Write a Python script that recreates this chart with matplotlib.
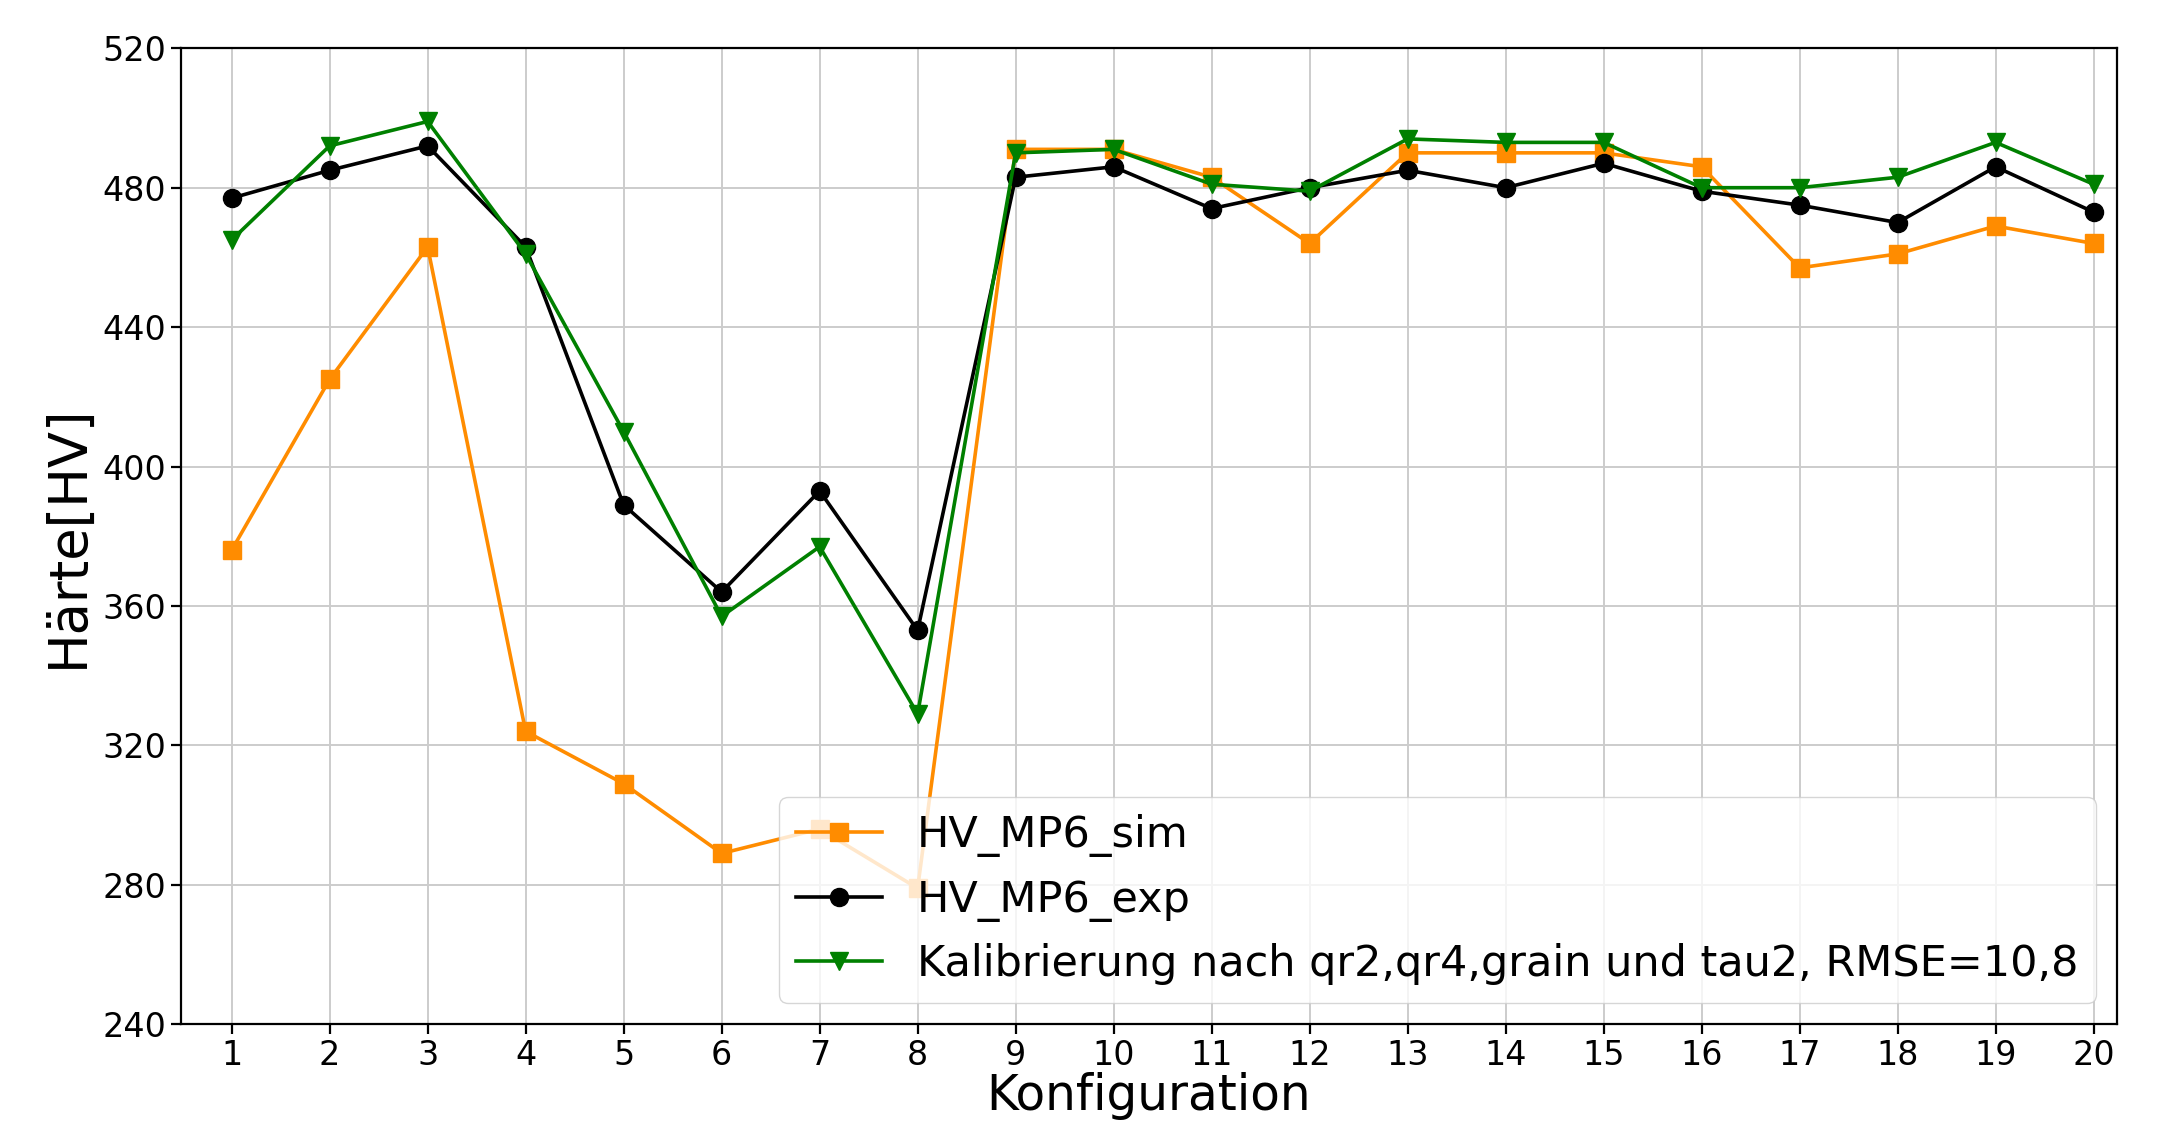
import matplotlib
matplotlib.use("Agg")
import matplotlib.pyplot as plt

konfig = list(range(1, 21))
hv_sim = [376, 425, 463, 324, 309, 289, 296, 279, 491, 491,
          483, 464, 490, 490, 490, 486, 457, 461, 469, 464]
hv_exp = [477, 485, 492, 463, 389, 364, 393, 353, 483, 486,
          474, 480, 485, 480, 487, 479, 475, 470, 486, 473]
hv_kal = [465, 492, 499, 461, 410, 357, 377, 329, 490, 491,
          481, 479, 494, 493, 493, 480, 480, 483, 493, 481]

fig = plt.figure(figsize=(21.77, 11.23), dpi=100)
ax = fig.add_axes([0.083, 0.088, 0.8895, 0.869])

ax.plot(konfig, hv_sim, marker='s', color='darkorange', lw=2.6, ms=13, label='HV_MP6_sim')
ax.plot(konfig, hv_exp, marker='o', color='black', lw=2.6, ms=13, label='HV_MP6_exp')
ax.plot(konfig, hv_kal, marker='v', color='green', lw=2.6, ms=13,
        label='Kalibrierung nach qr2,qr4,grain und tau2, RMSE=10,8')

ax.set_xlim(0.48, 20.24)
ax.set_ylim(240, 520)
ax.set_xticks(konfig)
ax.set_yticks(range(240, 521, 40))
ax.tick_params(labelsize=24, length=7, width=1.6)
for s in ax.spines.values():
    s.set_linewidth(1.6)
ax.grid(True, color='#cccccc', linewidth=1.4)
ax.set_xlabel('Konfiguration', fontsize=35, labelpad=0)
ax.set_ylabel('Härte[HV]', fontsize=38, labelpad=6)
ax.legend(loc='lower right', fontsize=31)

plt.savefig("out.png", dpi=100)
